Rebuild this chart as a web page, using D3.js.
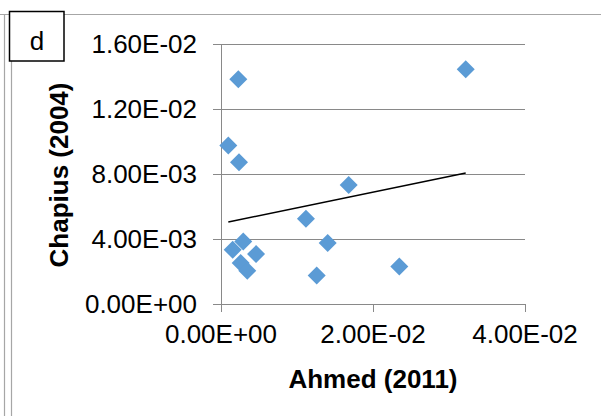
<!DOCTYPE html>
<html>
<head>
<meta charset="utf-8">
<script src="https://cdn.jsdelivr.net/npm/d3@7"></script>
<style>
  html, body { margin: 0; padding: 0; background: #fff; }
  svg { display: block; }
  text { font-family: "Liberation Sans", Arial, sans-serif; fill: #000; }
</style>
</head>
<body>
<svg id="chart" width="601" height="416"></svg>
<script>
// Ahmed (2011) vs Chapius (2004)
const ahmed = [0.00228, 0.0322, 0.00096, 0.00237, 0.0168, 0.01118, 0.01404,
               0.00293, 0.00154, 0.00461, 0.00259, 0.00346, 0.01259, 0.02346];
const chapius = [0.01383, 0.01445, 0.00975, 0.00873, 0.00733, 0.00524, 0.00375,
                 0.00385, 0.00334, 0.00307, 0.00252, 0.00205, 0.00176, 0.00231];
const xTicks = [0, 0.02, 0.04];
const yTicks = [0, 0.004, 0.008, 0.012, 0.016];
const xTickLabels = ["0.00E+00", "2.00E-02", "4.00E-02"];
const yTickLabels = ["0.00E+00", "4.00E-03", "8.00E-03", "1.20E-02", "1.60E-02"];
const panelLabel = "d";
const xTitle = "Ahmed (2011)";
const yTitle = "Chapius (2004)";

const svg = d3.select("#chart");
const plot = { left: 221, right: 525, top: 44, bottom: 304 };
const x = d3.scaleLinear().domain([0, 0.04]).range([plot.left, plot.right]);
const y = d3.scaleLinear().domain([0, 0.016]).range([plot.bottom, plot.top]);

const frame = "#a6a6a6";
// outer frame lines
svg.append("line").attr("x1", 0).attr("x2", 601).attr("y1", 14.5).attr("y2", 14.5)
  .attr("stroke", frame).attr("stroke-width", 1.2);
svg.append("line").attr("x1", 4.5).attr("x2", 4.5).attr("y1", 14).attr("y2", 416)
  .attr("stroke", frame).attr("stroke-width", 1.2);
svg.append("line").attr("x1", 11.5).attr("x2", 11.5).attr("y1", 14).attr("y2", 416)
  .attr("stroke", frame).attr("stroke-width", 1.2);

// panel label box
svg.append("rect").attr("x", 9.5).attr("y", 11.5).attr("width", 54.5).attr("height", 49.5)
  .attr("fill", "#fff").attr("stroke", "#000").attr("stroke-width", 1.5);
svg.append("text").attr("x", 37).attr("y", 50).attr("text-anchor", "middle")
  .attr("font-size", 26).text(panelLabel);

const gridColor = "#898989";
// horizontal gridlines (with outward tick stubs)
svg.append("g").selectAll("line").data(yTicks).join("line")
  .attr("x1", plot.left - 8).attr("x2", plot.right)
  .attr("y1", d => Math.round(y(d)) + 0.5).attr("y2", d => Math.round(y(d)) + 0.5)
  .attr("stroke", gridColor).attr("stroke-width", 1);

// y axis line
svg.append("line").attr("x1", plot.left + 0.5).attr("x2", plot.left + 0.5)
  .attr("y1", plot.top).attr("y2", plot.bottom + 8)
  .attr("stroke", gridColor).attr("stroke-width", 1);
// x axis tick marks
svg.append("g").selectAll("line").data(xTicks).join("line")
  .attr("x1", d => Math.round(x(d)) + 0.5).attr("x2", d => Math.round(x(d)) + 0.5)
  .attr("y1", plot.bottom).attr("y2", plot.bottom + 8)
  .attr("stroke", gridColor).attr("stroke-width", 1);

// tick labels
svg.append("g").selectAll("text").data(yTicks).join("text")
  .attr("x", 197).attr("y", d => y(d)).attr("dy", "0.36em")
  .attr("text-anchor", "end").attr("font-size", 26)
  .text((d, i) => yTickLabels[i]);
svg.append("g").selectAll("text").data(xTicks).join("text")
  .attr("x", d => x(d)).attr("y", 343)
  .attr("text-anchor", "middle").attr("font-size", 26)
  .text((d, i) => xTickLabels[i]);

// axis titles
svg.append("text").attr("x", 373).attr("y", 388).attr("text-anchor", "middle")
  .attr("font-size", 26).attr("font-weight", "bold").text(xTitle);
svg.append("text").attr("transform", "translate(68,175) rotate(-90)")
  .attr("text-anchor", "middle").attr("font-size", 26).attr("font-weight", "bold")
  .text(yTitle);

// points
const pts = ahmed.map((v, i) => ({ x: v, y: chapius[i] }));
const r = 9;
svg.append("g").selectAll("path").data(pts).join("path")
  .attr("transform", d => `translate(${x(d.x)},${y(d.y)})`)
  .attr("d", `M0,${-r}L${r},0L0,${r}L${-r},0Z`)
  .attr("fill", "#5b9bd5");

// least-squares trend line over the data range
const mx = d3.mean(ahmed), my = d3.mean(chapius);
const sxy = d3.sum(ahmed, (v, i) => (v - mx) * (chapius[i] - my));
const sxx = d3.sum(ahmed, v => (v - mx) ** 2);
const slope = sxy / sxx, icpt = my - slope * mx;
const [x0, x1] = d3.extent(ahmed);
svg.append("line")
  .attr("x1", x(x0)).attr("y1", y(icpt + slope * x0))
  .attr("x2", x(x1)).attr("y2", y(icpt + slope * x1))
  .attr("stroke", "#000").attr("stroke-width", 1.5);
</script>
</body>
</html>
